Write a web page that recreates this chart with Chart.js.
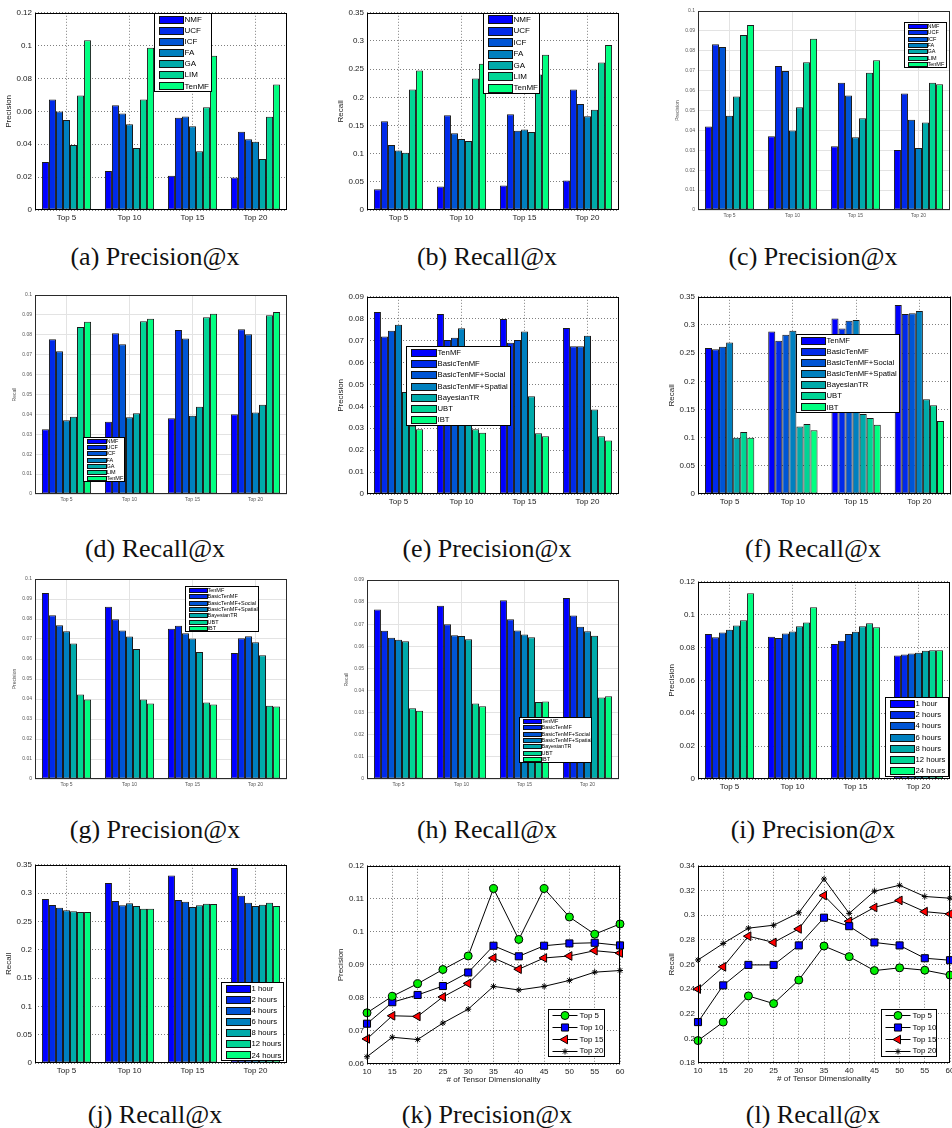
<!DOCTYPE html>
<html><head><meta charset="utf-8">
<script src="https://cdn.jsdelivr.net/npm/chart.js@4/dist/chart.umd.min.js"></script>
<style>
html,body{margin:0;padding:0;background:#fff}
body{position:relative;width:952px;height:1128px;overflow:hidden}
.cap{position:absolute;font-family:"Liberation Serif","DejaVu Serif",serif;font-size:26px;line-height:1;color:#111;white-space:nowrap;transform:translate(-50%,-50%)}
</style></head><body>
<div class="cap" style="left:155px;top:257px">(a) Precision@x</div>
<div class="cap" style="left:487px;top:257px">(b) Recall@x</div>
<div class="cap" style="left:813px;top:257px">(c) Precision@x</div>
<div class="cap" style="left:155px;top:549px">(d) Recall@x</div>
<div class="cap" style="left:487px;top:549px">(e) Precision@x</div>
<div class="cap" style="left:813px;top:549px">(f) Recall@x</div>
<div class="cap" style="left:155px;top:830px">(g) Precision@x</div>
<div class="cap" style="left:487px;top:830px">(h) Recall@x</div>
<div class="cap" style="left:813px;top:830px">(i) Precision@x</div>
<div class="cap" style="left:155px;top:1115px">(j) Recall@x</div>
<div class="cap" style="left:487px;top:1115px">(k) Precision@x</div>
<div class="cap" style="left:813px;top:1115px">(l) Recall@x</div>
<script>
// ---------------- DATA ----------------
const topCats = ["Top 5", "Top 10", "Top 15", "Top 20"];
const baseMethods = ["NMF", "UCF", "ICF", "FA", "GA", "LIM", "TenMF"];
const tenmfVariants = ["TenMF", "BasicTenMF", "BasicTenMF+Social", "BasicTenMF+Spatial", "BayesianTR", "UBT", "IBT"];
const timeWindows = ["1 hour", "2 hours", "4 hours", "6 hours", "8 hours", "12 hours", "24 hours"];
const dims = [10, 15, 20, 25, 30, 35, 40, 45, 50, 55, 60];
const topSeries = ["Top 5", "Top 10", "Top 15", "Top 20"];

// rows = series, columns = Top 5, Top 10, Top 15, Top 20
const precisionA = [
  [0.0292, 0.0238, 0.0208, 0.0198],
  [0.0672, 0.0637, 0.0561, 0.0476],
  [0.0599, 0.0587, 0.0569, 0.0430],
  [0.0547, 0.0522, 0.0510, 0.0415],
  [0.0395, 0.0377, 0.0357, 0.0310],
  [0.0696, 0.0672, 0.0625, 0.0567],
  [0.1033, 0.0988, 0.0938, 0.0764]
];
const recallB = [
  [0.0369, 0.0416, 0.0434, 0.0522],
  [0.1577, 0.1680, 0.1700, 0.2140],
  [0.1155, 0.1360, 0.1407, 0.1880],
  [0.1055, 0.1260, 0.1430, 0.1665],
  [0.1014, 0.1225, 0.1383, 0.1780],
  [0.2140, 0.2333, 0.2403, 0.2620],
  [0.2474, 0.2597, 0.2755, 0.2930]
];
const precisionC = [
  [0.0419, 0.0370, 0.0320, 0.0302],
  [0.0833, 0.0724, 0.0640, 0.0586],
  [0.0819, 0.0698, 0.0576, 0.0454],
  [0.0474, 0.0400, 0.0365, 0.0312],
  [0.0570, 0.0516, 0.0461, 0.0440],
  [0.0879, 0.0742, 0.0690, 0.0640],
  [0.0930, 0.0861, 0.0752, 0.0632]
];
const recallD = [
  [0.0326, 0.0363, 0.0381, 0.0401],
  [0.0778, 0.0808, 0.0824, 0.0828],
  [0.0717, 0.0753, 0.0781, 0.0803],
  [0.0371, 0.0386, 0.0393, 0.0410],
  [0.0388, 0.0406, 0.0438, 0.0448],
  [0.0839, 0.0868, 0.0888, 0.0898],
  [0.0865, 0.0881, 0.0906, 0.0915]
];
const precisionE = [
  [0.0831, 0.0822, 0.0799, 0.0758],
  [0.0719, 0.0703, 0.0690, 0.0674],
  [0.0745, 0.0713, 0.0703, 0.0674],
  [0.0773, 0.0757, 0.0742, 0.0722],
  [0.0466, 0.0455, 0.0446, 0.0386],
  [0.0311, 0.0295, 0.0277, 0.0264],
  [0.0295, 0.0279, 0.0264, 0.0244]
];
const recallF = [
  [0.2590, 0.2884, 0.3113, 0.3353],
  [0.2567, 0.2720, 0.2937, 0.3195],
  [0.2614, 0.2825, 0.3077, 0.3206],
  [0.2690, 0.2896, 0.3089, 0.3247],
  [0.0997, 0.1196, 0.1420, 0.1682],
  [0.1100, 0.1243, 0.1350, 0.1577],
  [0.0997, 0.1131, 0.1230, 0.1295]
];
const precisionG = [
  [0.0930, 0.0861, 0.0751, 0.0630],
  [0.0819, 0.0799, 0.0766, 0.0704],
  [0.0769, 0.0742, 0.0729, 0.0714],
  [0.0739, 0.0712, 0.0702, 0.0684],
  [0.0677, 0.0650, 0.0635, 0.0619],
  [0.0423, 0.0398, 0.0383, 0.0366],
  [0.0398, 0.0378, 0.0373, 0.0363]
];
const recallH = [
  [0.0767, 0.0784, 0.0808, 0.0819],
  [0.0671, 0.0700, 0.0722, 0.0739],
  [0.0639, 0.0650, 0.0672, 0.0689],
  [0.0630, 0.0647, 0.0653, 0.0668],
  [0.0623, 0.0632, 0.0641, 0.0648],
  [0.0320, 0.0342, 0.0348, 0.0369],
  [0.0309, 0.0329, 0.0350, 0.0374]
];
const precisionI = [
  [0.0882, 0.0866, 0.0821, 0.0751],
  [0.0862, 0.0858, 0.0842, 0.0757],
  [0.0892, 0.0886, 0.0882, 0.0763],
  [0.0908, 0.0898, 0.0896, 0.0769],
  [0.0934, 0.0930, 0.0930, 0.0781],
  [0.0966, 0.0952, 0.0948, 0.0783],
  [0.1130, 0.1045, 0.0924, 0.0783]
];
const recallJ = [
  [0.2895, 0.3180, 0.3310, 0.3444],
  [0.2790, 0.2860, 0.2877, 0.2953],
  [0.2743, 0.2784, 0.2848, 0.2830],
  [0.2696, 0.2819, 0.2754, 0.2772],
  [0.2678, 0.2772, 0.2784, 0.2795],
  [0.2667, 0.2725, 0.2813, 0.2830],
  [0.2667, 0.2725, 0.2807, 0.2772]
];
// rows = Top 5..Top 20, columns = dims
const precisionK = [
  [0.0755, 0.0805, 0.0843, 0.0886, 0.0927, 0.1131, 0.0977, 0.1131, 0.1045, 0.0993, 0.1024],
  [0.0722, 0.0787, 0.0809, 0.0836, 0.0877, 0.0958, 0.0926, 0.0958, 0.0965, 0.0967, 0.0959],
  [0.0676, 0.0746, 0.0744, 0.0803, 0.0844, 0.0921, 0.0887, 0.0921, 0.0927, 0.0943, 0.0936],
  [0.0622, 0.0681, 0.0674, 0.0724, 0.0766, 0.0835, 0.0824, 0.0835, 0.0853, 0.0878, 0.0883]
];
const recallL = [
  [0.1982, 0.2132, 0.2344, 0.2282, 0.2473, 0.2749, 0.2663, 0.2550, 0.2572, 0.2553, 0.2513],
  [0.2132, 0.2430, 0.2596, 0.2596, 0.2754, 0.2979, 0.2910, 0.2778, 0.2754, 0.2650, 0.2634],
  [0.2400, 0.2580, 0.2829, 0.2778, 0.2888, 0.3159, 0.2950, 0.3062, 0.3119, 0.3028, 0.3009],
  [0.2636, 0.2770, 0.2894, 0.2918, 0.3019, 0.3293, 0.3014, 0.3194, 0.3242, 0.3151, 0.3137]
];

// ---------------- STYLE ----------------
const BAR_COLORS = ['#0000ff', '#002aea', '#0055d5', '#0080bf', '#00aaaa', '#00d595', '#00ff80'];
const FONT = '"Liberation Sans", Arial, Helvetica, sans-serif';
const STYLES = {
  old: { tick: 8, tickColor: '#1a1a1a', grid: 'rgba(0,0,0,0.5)', dash: [1, 2], frame: '#000', yW: 35, xH: 20, pad: 3 },
  neu: { tick: 5, tickColor: '#555', grid: '#e3e3e3', dash: [], frame: '#2a2a2a', yW: 27, xH: 14, pad: 3 }
};
const LINE_STYLES = [
  { pointStyle: 'circle', rot: 0, r: 4, fill: '#00ee00' },
  { pointStyle: 'rect', rot: 0, r: 5, fill: '#0000ff' },
  { pointStyle: 'triangle', rot: -90, r: 5, fill: '#ff0000' },
  { pointStyle: 'star', rot: 0, r: 3, fill: '#000' }
];

function drawMarker(ctx, style, rot, r, x, y, fill) {
  ctx.save();
  ctx.translate(x, y);
  ctx.rotate((rot || 0) * Math.PI / 180);
  ctx.fillStyle = fill; ctx.strokeStyle = '#000'; ctx.lineWidth = 1;
  ctx.beginPath();
  if (style === 'circle') ctx.arc(0, 0, r, 0, Math.PI * 2);
  else if (style === 'rect') { const s = r / Math.SQRT2; ctx.rect(-s, -s, 2 * s, 2 * s); }
  else if (style === 'triangle') { ctx.moveTo(0, -r); ctx.lineTo(r * 0.866, r * 0.5); ctx.lineTo(-r * 0.866, r * 0.5); ctx.closePath(); }
  else if (style === 'star') {
    for (let k = 0; k < 4; k++) { const a = k * Math.PI / 4; ctx.moveTo(Math.cos(a) * r, Math.sin(a) * r); ctx.lineTo(-Math.cos(a) * r, -Math.sin(a) * r); }
  }
  if (style !== 'star') ctx.fill();
  ctx.stroke();
  ctx.restore();
}

const framePlugin = {
  id: 'frame',
  afterDatasetsDraw(chart, args, o) {
    const { ctx, chartArea: ca } = chart;
    ctx.save();
    ctx.strokeStyle = o.color || '#000';
    ctx.lineWidth = 1;
    ctx.strokeRect(Math.round(ca.left) + 0.5, Math.round(ca.top) + 0.5, Math.round(ca.right - ca.left) - 1, Math.round(ca.bottom - ca.top) - 1);
    ctx.restore();
  }
};
const boxLegend = {
  id: 'boxLegend',
  afterDraw(chart, args, o) {
    if (!o || !o.w) return;
    const ctx = chart.ctx, ca = chart.chartArea;
    const x0 = Math.round(ca.left + o.x) + 0.5, y0 = Math.round(ca.top + o.y) + 0.5;
    ctx.save();
    ctx.fillStyle = '#fff'; ctx.fillRect(x0, y0, o.w, o.h);
    ctx.strokeStyle = '#000'; ctx.lineWidth = 1; ctx.strokeRect(x0, y0, o.w, o.h);
    const ds = chart.data.datasets, n = ds.length, rh = o.h / n;
    ctx.font = o.font + 'px ' + FONT;
    ctx.textBaseline = 'middle'; ctx.textAlign = 'left';
    ds.forEach((d, i) => {
      const cy = y0 + rh * (i + 0.5);
      const sx = x0 + o.pad;
      if (o.line) {
        ctx.strokeStyle = '#000'; ctx.lineWidth = 1;
        ctx.beginPath(); ctx.moveTo(sx, Math.round(cy) + 0.5); ctx.lineTo(sx + o.sw, Math.round(cy) + 0.5); ctx.stroke();
        const ls = LINE_STYLES[i];
        drawMarker(ctx, ls.pointStyle, ls.rot, ls.r, sx + o.sw / 2, Math.round(cy) + 0.5, ls.fill);
      } else {
        const sh = Math.round(rh * 0.66);
        const sy = Math.round(cy - sh / 2) + 0.5;
        ctx.fillStyle = d.backgroundColor; ctx.fillRect(Math.round(sx) + 0.5, sy, o.sw, sh);
        ctx.strokeStyle = '#111'; ctx.lineWidth = 1; ctx.strokeRect(Math.round(sx) + 0.5, sy, o.sw, sh);
      }
      ctx.fillStyle = '#000';
      ctx.fillText(d.label, sx + o.sw + o.gap, cy + 0.5);
    });
    ctx.restore();
  }
};
Chart.register(framePlugin, boxLegend);

const fmt = v => String(parseFloat(Number(v).toFixed(4)));

function makeChart(spec) {
  const st = STYLES[spec.style];
  const [l, t, r, b] = spec.plot;
  const padT = 6, padR = 10;
  const xH = spec.xTitle ? 25 : st.xH;
  const W = st.yW + (r - l) + padR, H = padT + (b - t) + xH;
  const cv = document.createElement('canvas');
  cv.width = W; cv.height = H;
  cv.style.cssText = 'position:absolute;left:' + (l - st.yW) + 'px;top:' + (t - padT) + 'px;width:' + W + 'px;height:' + H + 'px';
  document.body.appendChild(cv);
  const tickFont = { family: FONT, size: st.tick };
  let datasets, xScale;
  if (spec.type === 'bar') {
    datasets = spec.names.map((name, i) => ({
      label: name, data: spec.values[i], backgroundColor: BAR_COLORS[i],
      borderColor: '#1a1a1a', borderWidth: 1, borderSkipped: false,
      categoryPercentage: 0.78, barPercentage: 1.0
    }));
    xScale = {
      type: 'category', offset: true,
      grid: { offset: false, color: st.grid, drawTicks: false, lineWidth: 1 },
      border: { display: false, dash: st.dash },
      ticks: { font: tickFont, color: st.tickColor, padding: st.pad, maxRotation: 0, autoSkip: false },
      afterFit: s => { s.height = xH; }
    };
  } else {
    datasets = spec.names.map((name, i) => ({
      label: name,
      data: spec.xs.map((x, j) => ({ x: x, y: spec.values[i][j] })),
      borderColor: '#000', borderWidth: 1, backgroundColor: LINE_STYLES[i].fill,
      pointStyle: LINE_STYLES[i].pointStyle, pointRotation: LINE_STYLES[i].rot,
      pointRadius: LINE_STYLES[i].r, pointBackgroundColor: LINE_STYLES[i].fill,
      pointBorderColor: '#000', pointBorderWidth: 1, tension: 0, clip: false, fill: false
    }));
    xScale = {
      type: 'linear', min: spec.xs[0], max: spec.xs[spec.xs.length - 1],
      grid: { color: st.grid, drawTicks: false, lineWidth: 1 },
      border: { display: false, dash: st.dash },
      ticks: { stepSize: 5, font: tickFont, color: st.tickColor, padding: st.pad, maxRotation: 0, autoSkip: false },
      title: { display: true, text: spec.xTitle, font: tickFont, color: st.tickColor, padding: { top: 2, bottom: 4 } },
      afterFit: s => { s.height = xH; }
    };
  }
  new Chart(cv, {
    type: spec.type,
    data: { labels: spec.type === 'bar' ? spec.labels : undefined, datasets: datasets },
    options: {
      responsive: false, animation: false, devicePixelRatio: 1,
      layout: { padding: { left: 0, right: padR, top: padT, bottom: 0 } },
      plugins: {
        legend: { display: false }, tooltip: { enabled: false },
        frame: { color: st.frame },
        boxLegend: spec.legend
      },
      scales: {
        x: xScale,
        y: {
          type: 'linear', min: spec.ymin, max: spec.ymax,
          grid: { color: st.grid, drawTicks: false, lineWidth: 1 },
          border: { display: false, dash: st.dash },
          ticks: { stepSize: spec.ystep, callback: fmt, font: tickFont, color: st.tickColor, padding: st.pad, autoSkip: false },
          title: { display: true, text: spec.yTitle, font: tickFont, color: st.tickColor, padding: { top: 4, bottom: 4 } },
          afterFit: s => { s.width = st.yW; }
        }
      }
    }
  });
}

const LG_OLD = { font: 8, pad: 4, gap: 2 };
const LG_NEW = { font: 5.5, pad: 3, gap: 1 };

makeChart({ style: 'old', type: 'bar', plot: [35, 11, 287, 210], labels: topCats, names: baseMethods, values: precisionA,
  ymin: 0, ymax: 0.12, ystep: 0.02, yTitle: 'Precision', legend: Object.assign({ x: 119, y: 0, w: 57, h: 78, sw: 24 }, LG_OLD) });
makeChart({ style: 'old', type: 'bar', plot: [367, 11, 619, 210], labels: topCats, names: baseMethods, values: recallB,
  ymin: 0, ymax: 0.35, ystep: 0.05, yTitle: 'Recall', legend: Object.assign({ x: 116, y: 0, w: 56, h: 80, sw: 24 }, LG_OLD) });
makeChart({ style: 'neu', type: 'bar', plot: [698, 11, 950, 210], labels: topCats, names: baseMethods, values: precisionC,
  ymin: 0, ymax: 0.1, ystep: 0.01, yTitle: 'Precision', legend: Object.assign({ x: 206, y: 11, w: 42, h: 45, sw: 19 }, LG_NEW) });
makeChart({ style: 'neu', type: 'bar', plot: [35, 295, 287, 494], labels: topCats, names: baseMethods, values: recallD,
  ymin: 0, ymax: 0.1, ystep: 0.01, yTitle: 'Recall', legend: Object.assign({ x: 48, y: 142, w: 41, h: 44, sw: 19 }, LG_NEW) });
makeChart({ style: 'old', type: 'bar', plot: [367, 295, 619, 494], labels: topCats, names: tenmfVariants, values: precisionE,
  ymin: 0, ymax: 0.09, ystep: 0.01, yTitle: 'Precision', legend: Object.assign({ x: 39, y: 49, w: 104, h: 79, sw: 25 }, LG_OLD, { font: 7.7 }) });
makeChart({ style: 'old', type: 'bar', plot: [698, 295, 951, 494], labels: topCats, names: tenmfVariants, values: recallF,
  ymin: 0, ymax: 0.35, ystep: 0.05, yTitle: 'Recall', legend: Object.assign({ x: 98, y: 37, w: 103, h: 78, sw: 24 }, LG_OLD, { font: 7.7 }) });
makeChart({ style: 'neu', type: 'bar', plot: [35, 579, 287, 779], labels: topCats, names: tenmfVariants, values: precisionG,
  ymin: 0, ymax: 0.1, ystep: 0.01, yTitle: 'Precision', legend: Object.assign({ x: 150, y: 7, w: 73, h: 45, sw: 18 }, LG_NEW) });
makeChart({ style: 'neu', type: 'bar', plot: [367, 580, 619, 779], labels: topCats, names: tenmfVariants, values: recallH,
  ymin: 0, ymax: 0.09, ystep: 0.01, yTitle: 'Recall', legend: Object.assign({ x: 152, y: 137, w: 72, h: 45, sw: 18 }, LG_NEW) });
makeChart({ style: 'old', type: 'bar', plot: [698, 580, 950, 779], labels: topCats, names: timeWindows, values: precisionI,
  ymin: 0, ymax: 0.12, ystep: 0.02, yTitle: 'Precision', legend: Object.assign({ x: 187, y: 115, w: 63, h: 79, sw: 24 }, LG_OLD, { font: 7.7 }) });
makeChart({ style: 'old', type: 'bar', plot: [35, 863, 287, 1063], labels: topCats, names: timeWindows, values: recallJ,
  ymin: 0, ymax: 0.35, ystep: 0.05, yTitle: 'Recall', legend: Object.assign({ x: 186, y: 117, w: 62, h: 78, sw: 24 }, LG_OLD, { font: 7.7 }) });
makeChart({ style: 'old', type: 'line', plot: [367, 864, 620, 1064], xs: dims, names: topSeries, values: precisionK,
  ymin: 0.06, ymax: 0.12, ystep: 0.01, yTitle: 'Precision', xTitle: '# of Tensor Dimensionality',
  legend: Object.assign({ x: 181, y: 143, w: 56, h: 47, sw: 25, line: true }, LG_OLD) });
makeChart({ style: 'old', type: 'line', plot: [698, 864, 950, 1063], xs: dims, names: topSeries, values: recallL,
  ymin: 0.18, ymax: 0.34, ystep: 0.02, yTitle: 'Recall', xTitle: '# of Tensor Dimensionality',
  legend: Object.assign({ x: 183, y: 143, w: 55, h: 47, sw: 25, line: true }, LG_OLD) });
</script>
</body></html>
